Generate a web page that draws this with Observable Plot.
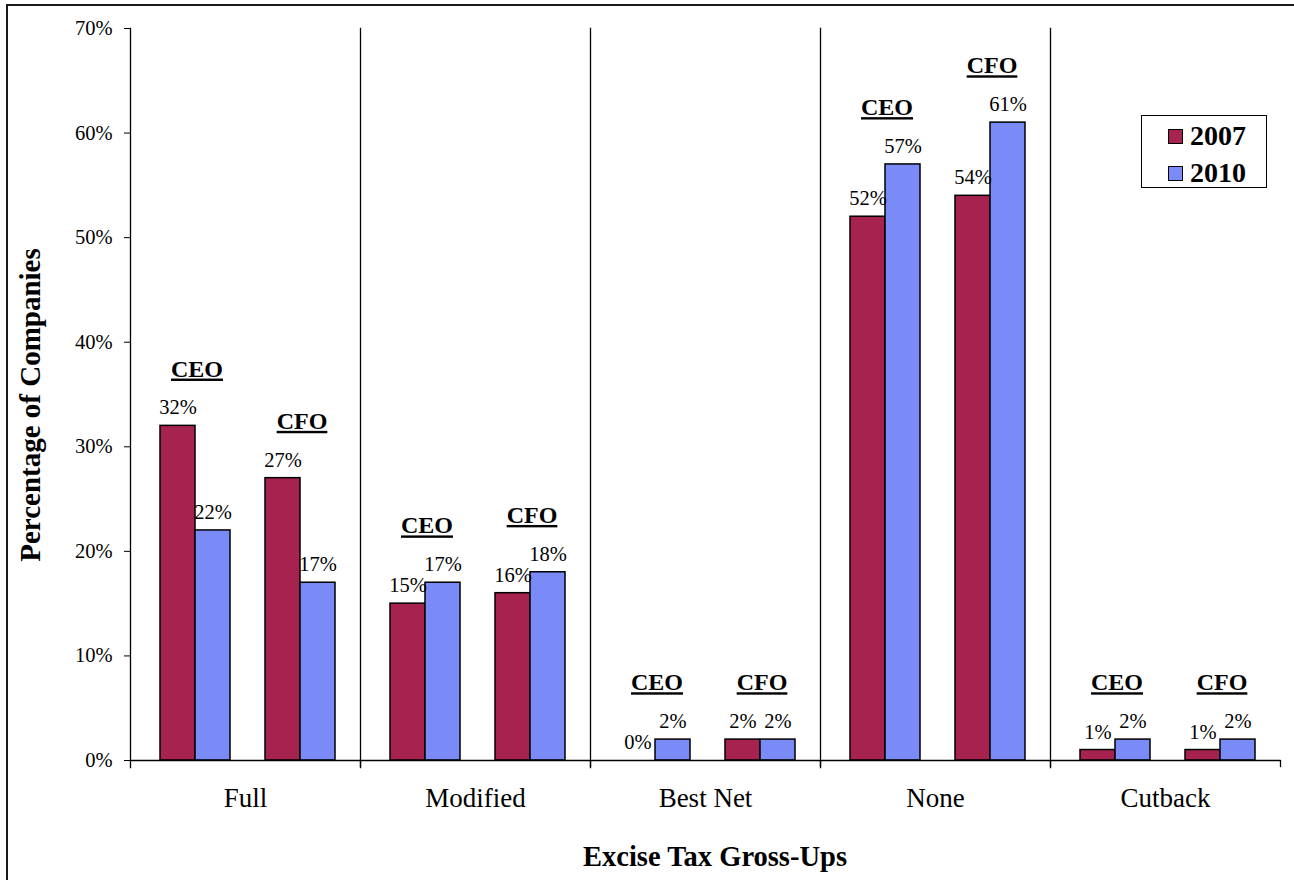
<!DOCTYPE html>
<html>
<head>
<meta charset="utf-8">
<script src="https://cdn.jsdelivr.net/npm/d3@7"></script>
<script src="https://cdn.jsdelivr.net/npm/@observablehq/plot@0.6"></script>
<style>
  html, body { margin: 0; padding: 0; background: #fff; overflow: hidden; }
  #wrap { position: relative; width: 1294px; height: 880px; font-family: "Liberation Serif", "Times New Roman", serif; color: #000; }
  #wrap svg { position: absolute; left: 0; top: 0; }
  .border { position: absolute; left: 6px; top: 4px; width: 1400px; height: 1000px; border: 2px solid #1a1a1a; pointer-events: none; }
  .ytitle { position: absolute; left: 30px; top: 405px; transform: translate(-50%, -50%) rotate(-90deg); font-weight: bold; font-size: 29px; white-space: nowrap; }
  .xtitle { position: absolute; left: 715px; top: 857px; transform: translate(-50%, -50%); font-weight: bold; font-size: 28.5px; white-space: nowrap; }
  .legend { position: absolute; left: 1141px; top: 115px; width: 124px; height: 71px; border: 1.5px solid #000; background: #fff; }
  .legend .row { position: absolute; left: 26px; display: flex; align-items: center; font-weight: bold; font-size: 28px; line-height: 1; }
  .legend .sw { width: 13px; height: 13px; border: 1.5px solid #000; margin-right: 7px; }
</style>
</head>
<body>
<div id="wrap"></div>
<script>
// Excise tax gross-up practices, share of companies (%)
const categories = ["Full", "Modified", "Best Net", "None", "Cutback"];
const years = ["2007", "2010"];
const roles = ["CEO", "CFO"];
const ceo2007 = [32, 15, 0, 52, 1];
const ceo2010 = [22, 17, 2, 57, 2];
const cfo2007 = [27, 16, 2, 54, 1];
const cfo2010 = [17, 18, 2, 61, 2];
const yTicks = [0, 10, 20, 30, 40, 50, 60, 70];

const colors = ["#A6234F", "#7A8AF6"];
const series = {CEO: {"2007": ceo2007, "2010": ceo2010}, CFO: {"2007": cfo2007, "2010": cfo2010}};

// one row per bar
const rows = [];
categories.forEach((cat, i) => {
  roles.forEach(role => {
    years.forEach(year => {
      rows.push({cat, role, year, slot: role + " " + year, value: series[role][year][i]});
    });
  });
});

// one label per CEO/CFO pair, sitting above the taller bar
const groups = [];
categories.forEach((cat, i) => {
  roles.forEach(role => {
    groups.push({cat, role, slot: role + " 2010", top: Math.max(series[role]["2007"][i], series[role]["2010"][i])});
  });
});

// a blank slot keeps the CEO and CFO pairs apart inside each category
const slots = ["CEO 2007", "CEO 2010", "gap", "CFO 2007", "CFO 2010"];

const chart = Plot.plot({
  width: 1294,
  height: 880,
  marginLeft: 130,
  marginRight: 14,
  marginTop: 28,
  marginBottom: 120,
  style: {fontFamily: "Liberation Serif, Times New Roman, serif", fontSize: "20px", color: "#000", background: "transparent"},
  fx: {domain: categories, padding: 0, label: null, axis: null},
  x: {domain: slots, paddingInner: 0, paddingOuter: 0.74, align: 0.55, axis: null},
  y: {domain: [0, 70], label: null, axis: null},
  color: {domain: years, range: colors},
  marks: [
    Plot.frame({anchor: "left", insetBottom: -7, stroke: "#000", strokeWidth: 1.3}),
    Plot.frame({anchor: "right", insetTop: 732, insetBottom: -6, stroke: "#000", strokeWidth: 1.3}),
    Plot.axisY({ticks: yTicks, tickFormat: d => d + "%", tickSize: 6, tickPadding: 12, fontSize: 20.5, label: null, stroke: "#000"}),
    Plot.axisFx({anchor: "bottom", tickSize: 0, tickPadding: 27, fontSize: 27, label: null}),
    Plot.barY(rows.filter(d => d.value > 0), {fx: "cat", x: "slot", y: "value", fill: "year", stroke: "#000", strokeWidth: 1.5}),
    Plot.ruleY([0], {stroke: "#000", strokeWidth: 1.5}),
    Plot.text(rows, {fx: "cat", x: "slot", y: "value", text: d => d.value + "%", dy: -18, fontSize: 20.5, fill: "#000"}),
    Plot.text(groups, {fx: "cat", x: "slot", y: "top", text: "role", dx: -16, dy: -57, fontSize: 24, fontWeight: "bold", fill: "#000"})
  ]
});

// underline the CEO / CFO group labels
d3.select(chart).selectAll("text").filter(function() {
  return roles.includes(this.textContent);
}).style("text-decoration", "underline");

const wrap = document.getElementById("wrap");
wrap.appendChild(chart);

const border = document.createElement("div");
border.className = "border";
wrap.appendChild(border);

const yt = document.createElement("div");
yt.className = "ytitle";
yt.textContent = "Percentage of Companies";
wrap.appendChild(yt);

const xt = document.createElement("div");
xt.className = "xtitle";
xt.textContent = "Excise Tax Gross-Ups";
wrap.appendChild(xt);

const legend = document.createElement("div");
legend.className = "legend";
years.forEach((y, i) => {
  const row = document.createElement("div");
  row.className = "row";
  row.style.top = (i === 0 ? 6 : 43) + "px";
  const sw = document.createElement("div");
  sw.className = "sw";
  sw.style.background = colors[i];
  const label = document.createElement("span");
  label.textContent = y;
  row.appendChild(sw);
  row.appendChild(label);
  legend.appendChild(row);
});
wrap.appendChild(legend);
</script>
</body>
</html>
